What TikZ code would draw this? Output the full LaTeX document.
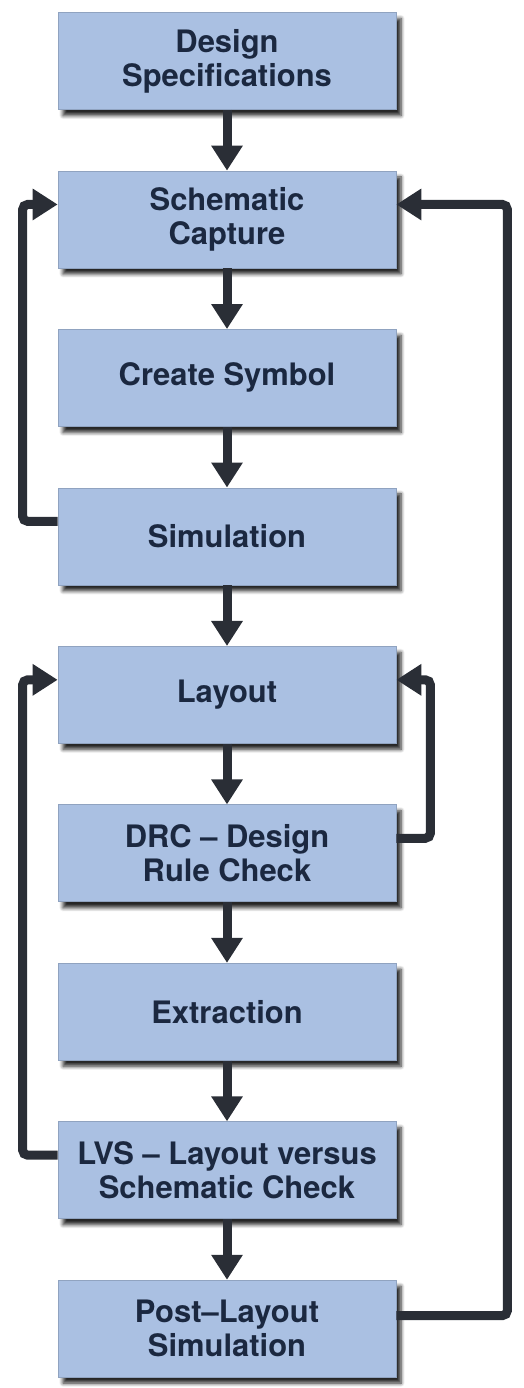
\documentclass[tikz,border=0pt]{standalone}
\usepackage{fontspec}
\setmainfont{TeX Gyre Heros}
\usetikzlibrary{positioning,arrows.meta,shadows.blur}
\definecolor{boxblue}{RGB}{170,192,226}
\definecolor{boxtext}{RGB}{27,40,64}
\definecolor{wire}{RGB}{42,46,54}
\tikzset{
  stage/.style={rectangle, fill=boxblue, draw=boxblue!85!black, line width=0.4pt,
    minimum width=6.76cm, minimum height=1.94cm, align=center,
    text=boxtext, font=\fontsize{17.6}{19.2}\selectfont\bfseries,
    blur shadow={shadow xshift=0.1cm, shadow yshift=-0.12cm, shadow blur steps=6, shadow opacity=85}},
  flow/.style={draw=wire, line width=0.18cm, -{Triangle[width=0.6cm,length=0.5cm]}},
  loop back/.style={flow, rounded corners=0.1cm}
}
\begin{document}
\begin{tikzpicture}
			\useasboundingbox (0,0) rectangle (10.48,-27.76);
			% stages
			\node[stage] (spec) at (4.54,-1.22) {Design\\Specifications};
			\node[stage, below=1.215cm of spec] (schem) {Schematic\\Capture};
			\node[stage, below=1.215cm of schem] (symbol) {Create Symbol};
			\node[stage, below=1.215cm of symbol] (sim) {Simulation};
			\node[stage, below=1.215cm of sim] (layout) {Layout};
			\node[stage, below=1.215cm of layout] (drc) {DRC -- Design\\Rule Check};
			\node[stage, below=1.215cm of drc] (extract) {Extraction};
			\node[stage, below=1.215cm of extract] (lvs) {LVS -- Layout versus\\Schematic Check};
			\node[stage, below=1.215cm of lvs] (post) {Post--Layout\\Simulation};
			% straight flow
			\foreach \a/\b in {spec/schem, schem/symbol, symbol/sim, sim/layout, layout/drc, drc/extract, extract/lvs, lvs/post}
				\draw[flow] (\a.south) -- (\b.north);
			% loops back
			\draw[loop back] ([yshift=0.3cm]sim.west) -- ++(-0.7,0) |- ([yshift=0.3cm]schem.west);
			\draw[loop back] ([yshift=0.3cm]lvs.west) -- ++(-0.7,0) |- ([yshift=0.3cm]layout.west);
			\draw[loop back] ([yshift=0.3cm]drc.east) -- ++(0.68,0) |- ([yshift=0.3cm]layout.east);
			\draw[loop back] ([yshift=0.26cm]post.east) -- ++(2.22,0) |- ([yshift=0.3cm]schem.east);
		\end{tikzpicture}
\end{document}
